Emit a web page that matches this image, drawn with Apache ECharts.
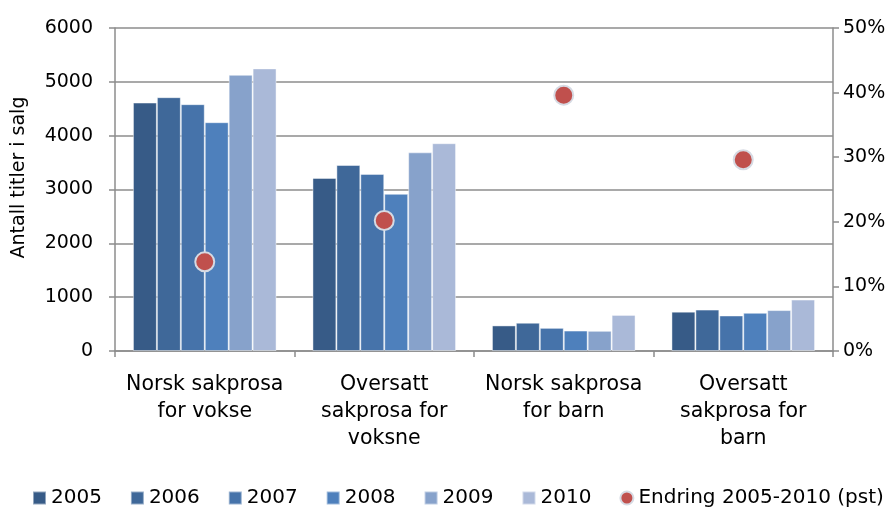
<!DOCTYPE html>
<html>
<head>
<meta charset="utf-8">
<script src="https://cdn.jsdelivr.net/npm/echarts@6/dist/echarts.min.js"></script>
<style>
    html, body { margin: 0; padding: 0; background: #fff; }
    #chart { width: 894px; height: 508px; }
</style>
</head>
<body>
<div id="chart"></div>
<script>
    // kategorier og data lest av figuren
    let categories = ['Norsk sakprosa\nfor vokse', 'Oversatt\nsakprosa for\nvoksne', 'Norsk sakprosa\nfor barn', 'Oversatt\nsakprosa for\nbarn'];
    let years = ['2005', '2006', '2007', '2008', '2009', '2010'];
    let v2005 = [4615, 3215, 475, 730];
    let v2006 = [4715, 3455, 525, 770];
    let v2007 = [4585, 3290, 430, 660];
    let v2008 = [4250, 2920, 380, 710];
    let v2009 = [5130, 3690, 375, 760];
    let v2010 = [5250, 3860, 670, 955];
    let endring = [13.8, 20.2, 39.6, 29.6];
    let barColors = ['#375B87', '#3F6899', '#4673AA', '#4E80BC', '#87A2CB', '#AAB9D8'];

    let chart = echarts.init(document.getElementById('chart'));
    let font = 'DejaVu Sans';
    let axisGrey = '#8C8C8C';

    let barData = [v2005, v2006, v2007, v2008, v2009, v2010];
    let seriesArr = [];
    years.forEach((y, i) => {
        seriesArr.push({
            name: y,
            type: 'bar',
            yAxisIndex: 0,
            barGap: 0,
            barCategoryGap: '20%',
            itemStyle: {
                color: barColors[i],
                borderColor: 'rgba(255,255,255,0.45)',
                borderWidth: 1
            },
            data: barData[i]
        });
    });
    seriesArr.push({
        name: 'Endring 2005-2010 (pst)',
        type: 'scatter',
        yAxisIndex: 1,
        symbol: 'circle',
        symbolSize: 19,
        itemStyle: {
            color: '#C0504D',
            opacity: 1,
            borderColor: '#D6DAE3',
            borderWidth: 2
        },
        z: 5,
        data: endring
    });

    let option = {
        animation: false,
        textStyle: { fontFamily: font },
        grid: { left: 115, right: 61, top: 28, bottom: 157, outerBoundsMode: 'none', containLabel: false },
        legend: {
            top: 488,
            left: 32,
            padding: [0, 0, 0, 0],
            itemWidth: 13,
            itemHeight: 13,
            itemGap: 28,
            textStyle: { fontFamily: font, fontSize: 20, color: '#000' },
            data: years.map(y => ({ name: y, icon: 'rect' })).concat([{ name: 'Endring 2005-2010 (pst)', icon: 'circle' }])
        },
        xAxis: {
            type: 'category',
            data: categories,
            axisLine: { show: true, lineStyle: { color: axisGrey, width: 1.5 } },
            axisTick: { show: true, length: 6, lineStyle: { color: axisGrey, width: 1.5 } },
            axisLabel: {
                fontFamily: font,
                fontSize: 20.5,
                color: '#000',
                lineHeight: 27,
                margin: 20,
                interval: 0
            }
        },
        yAxis: [
            {
                type: 'value',
                min: 0,
                max: 6000,
                interval: 1000,
                name: 'Antall titler i salg',
                nameLocation: 'middle',
                nameGap: 86,
                nameTextStyle: { fontFamily: font, fontSize: 19, color: '#000', padding: [0, 0, 0, 24] },
                axisLine: { show: true, lineStyle: { color: axisGrey, width: 1.5 } },
                axisTick: { show: true, length: 6, lineStyle: { color: axisGrey, width: 1.5 } },
                axisLabel: { fontFamily: font, fontSize: 19, color: '#000', margin: 22, formatter: v => String(v) },
                splitLine: { show: true, lineStyle: { color: axisGrey, width: 1.5 } }
            },
            {
                type: 'value',
                min: 0,
                max: 50,
                interval: 10,
                position: 'right',
                axisLine: { show: true, lineStyle: { color: axisGrey, width: 1.5 } },
                axisTick: { show: true, length: 6, lineStyle: { color: axisGrey, width: 1.5 } },
                axisLabel: { fontFamily: font, fontSize: 19, color: '#000', margin: 10, formatter: '{value}%' },
                splitLine: { show: false }
            }
        ],
        series: seriesArr
    };

    chart.setOption(option);
</script>
</body>
</html>
